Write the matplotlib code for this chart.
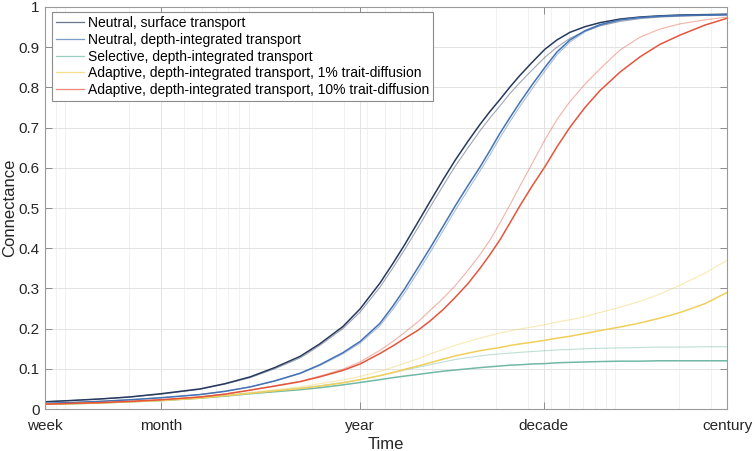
import matplotlib
matplotlib.use("Agg")
import matplotlib.pyplot as plt
from matplotlib.ticker import LogLocator, NullFormatter

plt.rcParams['font.family'] = ['Liberation Sans', 'DejaVu Sans']

# time axis in days
days = [7, 9.6, 14, 20.3, 30, 49, 67, 92, 125, 172, 220, 294, 365, 468, 551, 641,
        755, 878, 1033, 1200, 1414, 1644, 1862, 2112, 2394, 2715, 3156, 3714, 4316,
        5082, 6136, 7405, 9520, 12240, 15720, 20210, 27660, 36500]

tick_pos = [7, 30, 365, 3650, 36500]
tick_lab = ["week", "month", "year", "decade", "century"]

labels = [
    "Neutral, surface transport",
    "Neutral, depth-integrated transport",
    "Selective, depth-integrated transport",
    "Adaptive, depth-integrated transport, 1% trait-diffusion",
    "Adaptive, depth-integrated transport, 10% trait-diffusion",
]
colors = ["#27395c", "#4473b4", "#72b8a6", "#f0cf5a", "#e4553c"]

# main runs
neutral_surf = [0.018, 0.021, 0.025, 0.030, 0.038, 0.050, 0.063, 0.080, 0.103, 0.131,
                0.162, 0.205, 0.249, 0.313, 0.362, 0.410, 0.465, 0.516, 0.570, 0.618,
                0.666, 0.708, 0.740, 0.770, 0.801, 0.830, 0.862, 0.895, 0.918, 0.937,
                0.951, 0.961, 0.970, 0.975, 0.978, 0.980, 0.981, 0.982]
neutral_depth = [0.014, 0.016, 0.019, 0.023, 0.028, 0.036, 0.044, 0.055, 0.070, 0.089,
                 0.110, 0.140, 0.168, 0.213, 0.256, 0.300, 0.352, 0.400, 0.454, 0.504,
                 0.556, 0.602, 0.643, 0.686, 0.725, 0.763, 0.806, 0.850, 0.888, 0.918,
                 0.941, 0.956, 0.968, 0.974, 0.977, 0.979, 0.980, 0.981]
selective = [0.012, 0.013, 0.015, 0.018, 0.021, 0.027, 0.032, 0.038, 0.043, 0.048,
             0.053, 0.060, 0.066, 0.073, 0.078, 0.082, 0.086, 0.090, 0.094, 0.097,
             0.100, 0.103, 0.105, 0.107, 0.109, 0.110, 0.112, 0.113, 0.115, 0.116,
             0.117, 0.118, 0.119, 0.119, 0.120, 0.120, 0.120, 0.120]
adaptive_1 = [0.012, 0.013, 0.015, 0.018, 0.021, 0.027, 0.033, 0.039, 0.045, 0.051,
              0.057, 0.065, 0.073, 0.083, 0.091, 0.099, 0.107, 0.115, 0.124, 0.132,
              0.139, 0.145, 0.149, 0.153, 0.158, 0.162, 0.166, 0.171, 0.176, 0.181,
              0.188, 0.195, 0.204, 0.214, 0.226, 0.240, 0.262, 0.290]
adaptive_10 = [0.012, 0.014, 0.016, 0.019, 0.023, 0.030, 0.037, 0.047, 0.057, 0.068,
               0.080, 0.096, 0.112, 0.138, 0.157, 0.176, 0.196, 0.219, 0.247, 0.277,
               0.312, 0.350, 0.384, 0.421, 0.463, 0.506, 0.554, 0.603, 0.652, 0.701,
               0.750, 0.792, 0.838, 0.876, 0.907, 0.930, 0.955, 0.972]

# lighter companion runs
neutral_surf_b = [0.018, 0.021, 0.025, 0.030, 0.037, 0.049, 0.062, 0.078, 0.100, 0.127,
                  0.158, 0.200, 0.241, 0.303, 0.351, 0.398, 0.451, 0.502, 0.555, 0.603,
                  0.650, 0.692, 0.724, 0.754, 0.785, 0.812, 0.843, 0.875, 0.900, 0.922,
                  0.940, 0.953, 0.964, 0.971, 0.975, 0.977, 0.979, 0.980]
neutral_depth_b = [0.014, 0.016, 0.019, 0.023, 0.028, 0.036, 0.044, 0.055, 0.069, 0.088,
                   0.108, 0.137, 0.164, 0.207, 0.248, 0.290, 0.341, 0.389, 0.443, 0.493,
                   0.545, 0.592, 0.632, 0.675, 0.715, 0.753, 0.796, 0.841, 0.881, 0.913,
                   0.938, 0.954, 0.967, 0.973, 0.976, 0.978, 0.979, 0.980]
selective_b = [0.012, 0.013, 0.015, 0.018, 0.022, 0.028, 0.034, 0.040, 0.046, 0.052,
               0.058, 0.066, 0.073, 0.083, 0.090, 0.097, 0.104, 0.110, 0.117, 0.123,
               0.128, 0.132, 0.135, 0.137, 0.139, 0.141, 0.143, 0.145, 0.147, 0.148,
               0.150, 0.151, 0.152, 0.153, 0.154, 0.154, 0.155, 0.155]
adaptive_1_b = [0.012, 0.013, 0.015, 0.018, 0.022, 0.028, 0.034, 0.041, 0.048, 0.055,
                0.063, 0.072, 0.081, 0.094, 0.104, 0.114, 0.125, 0.137, 0.148, 0.158,
                0.168, 0.176, 0.183, 0.189, 0.194, 0.199, 0.204, 0.210, 0.216, 0.222,
                0.230, 0.240, 0.253, 0.268, 0.286, 0.308, 0.338, 0.370]
adaptive_10_b = [0.012, 0.014, 0.016, 0.019, 0.023, 0.030, 0.037, 0.047, 0.058, 0.069,
                 0.082, 0.099, 0.117, 0.146, 0.168, 0.191, 0.217, 0.245, 0.275, 0.306,
                 0.345, 0.384, 0.420, 0.463, 0.508, 0.555, 0.610, 0.670, 0.720, 0.765,
                 0.808, 0.846, 0.893, 0.925, 0.945, 0.958, 0.968, 0.975]

main_runs = [neutral_surf, neutral_depth, selective, adaptive_1, adaptive_10]
light_runs = [neutral_surf_b, neutral_depth_b, selective_b, adaptive_1_b, adaptive_10_b]

fig = plt.figure(figsize=(7.55, 4.51), dpi=100)
ax = fig.add_axes([0.0596, 0.0931, 0.9034, 0.8914])

handles = []
for y, yb, c, lab in zip(main_runs, light_runs, colors, labels):
    ax.plot(days, yb, color=c, lw=0.8, alpha=0.45)
    h, = ax.plot(days, y, color=c, lw=1.1, label=lab)
    handles.append(h)

ax.set_xscale("log")
ax.set_xlim(7, 36500)
ax.set_ylim(0, 1)
ax.set_xticks(tick_pos)
ax.set_xticklabels(tick_lab)
ax.xaxis.set_minor_locator(LogLocator(base=10, subs=range(2, 10)))
ax.xaxis.set_minor_formatter(NullFormatter())
ax.set_yticks([i / 10 for i in range(11)])
ax.set_yticklabels(["0", "0.1", "0.2", "0.3", "0.4", "0.5", "0.6", "0.7", "0.8", "0.9", "1"])

ax.grid(True, which="major", color="#e3e3e3", lw=0.7)
ax.grid(True, which="minor", axis="x", color="#efefef", lw=0.6)
ax.set_axisbelow(True)

ax.tick_params(which="major", direction="in", length=5, width=0.7, color="#8c8c8c",
               top=True, right=True, labelsize=11, labelcolor="#262626")
ax.tick_params(axis="x", which="major", pad=7)
ax.tick_params(axis="y", which="major", pad=4)
ax.tick_params(which="minor", length=0, top=True, right=True)
for s in ax.spines.values():
    s.set_color("#9a9a9a")
    s.set_linewidth(0.8)

ax.set_xlabel("Time", fontsize=12, color="#262626", labelpad=3)
ax.set_ylabel("Connectance", fontsize=12, color="#262626", labelpad=1)

leg = ax.legend(handles=handles, loc="upper left", bbox_to_anchor=(0.01, 0.988),
                borderaxespad=0, fontsize=10, fancybox=False, framealpha=1,
                edgecolor="#8c8c8c", handlelength=2.0, handletextpad=0.3,
                labelspacing=0.2, borderpad=0.3)
leg.get_frame().set_linewidth(0.8)
for line in leg.get_lines():
    line.set_linewidth(0.9)
    line.set_alpha(0.7)

fig.savefig("out.png", dpi=100)
